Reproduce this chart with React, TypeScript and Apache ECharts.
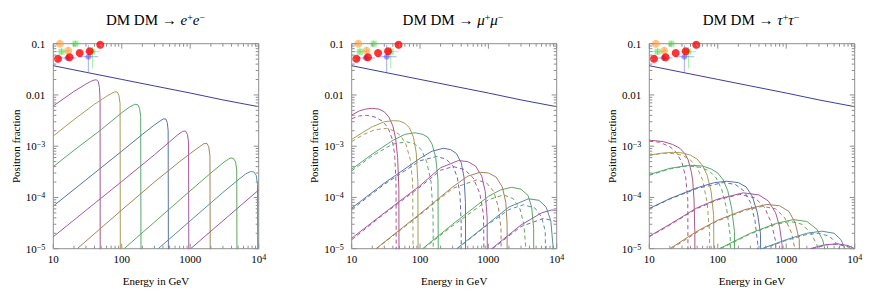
import React, { useEffect, useRef } from "react";
import * as echarts from "echarts";

// ---------------- data ----------------
const MASSES = [50, 100, 200, 500, 1000, 2000, 5000, 10000, 20000];
const MASS_COLORS = ["#A8578A", "#A89C58", "#58A86D", "#5872A8", "#A8579F", "#A88158", "#5DA858", "#588DA8", "#9657A8"];
const BG_COLOR = "#3F3D99";

const PANEL_TITLES = [
  "{n|DM DM → }{i|e}{s|+}{i|e}{s|−}",
  "{n|DM DM → }{i|μ}{s|+}{i|μ}{s|−}",
  "{n|DM DM → }{i|τ}{s|+}{i|τ}{s|−}",
];
const X_LABEL = "Energy in GeV";
const Y_LABEL = "Positron fraction";

const X_MAJOR = [10, 100, 1000, 10000];
const X_MINOR = [20, 30, 40, 50, 60, 70, 80, 90, 200, 300, 400, 500, 600, 700, 800, 900, 2000, 3000, 4000, 5000, 6000, 7000, 8000, 9000];
const Y_MAJOR = [1e-5, 1e-4, 1e-3, 1e-2, 1e-1];
const Y_MINOR = [
  2e-5, 3e-5, 4e-5, 5e-5, 6e-5, 7e-5, 8e-5, 9e-5,
  2e-4, 3e-4, 4e-4, 5e-4, 6e-4, 7e-4, 8e-4, 9e-4,
  2e-3, 3e-3, 4e-3, 5e-3, 6e-3, 7e-3, 8e-3, 9e-3,
  0.02, 0.03, 0.04, 0.05, 0.06, 0.07, 0.08, 0.09,
];

// astrophysical background positron fraction
const bgLine = [[10, 0.0372], [30, 0.0277], [100, 0.0201], [300, 0.015], [1000, 0.0109], [3000, 0.008], [10000, 0.0059]];

// DM DM -> e+ e-
const eeCurves = [
  [[10, 0.0061], [20, 0.0117], [30, 0.0163], [35, 0.0183], [40, 0.0196], [43, 0.0197], [45.5, 0.018], [47.2, 0.014], [48.2, 0.008], [48.6, 1e-8]],
  [[10, 0.00158], [20, 0.0033], [40, 0.0066], [60, 0.0094], [70, 0.0106], [79, 0.0115], [86, 0.0114], [91, 0.0097], [94.5, 0.0068], [96, 1e-8]],
  [[10, 4.0e-4], [20, 8.3e-4], [50, 0.0021], [100, 0.0045], [130, 0.0058], [155, 0.0066], [172, 0.0064], [182, 0.0055], [189, 0.0038], [193, 1e-8]],
  [[10, 6.8e-5], [30, 2.2e-4], [100, 8.0e-4], [200, 1.7e-3], [300, 2.6e-3], [350, 3.0e-3], [403, 3.4e-3], [440, 3.4e-3], [462, 2.9e-3], [476, 2.0e-3], [484, 1e-8]],
  [[10, 1.71e-5], [30, 5.6e-5], [100, 2.05e-4], [300, 6.8e-4], [500, 1.22e-3], [650, 1.65e-3], [775, 1.95e-3], [850, 1.98e-3], [910, 1.7e-3], [945, 1.2e-3], [965, 1e-8]],
  [[22.4, 1e-5], [100, 5.7e-5], [300, 2.0e-4], [700, 5.0e-4], [1000, 7.2e-4], [1300, 9.3e-4], [1585, 1.12e-3], [1750, 1.13e-3], [1860, 9.8e-4], [1940, 6.5e-4], [1985, 1e-8]],
  [[108, 1e-5], [300, 3.3e-5], [1000, 1.35e-4], [2000, 3.0e-4], [3000, 4.7e-4], [3600, 5.6e-4], [3927, 5.9e-4], [4300, 5.75e-4], [4600, 4.9e-4], [4780, 3.3e-4], [4870, 1e-8]],
  [[341, 1e-5], [1000, 3.5e-5], [3000, 1.25e-4], [5000, 2.2e-4], [6500, 2.9e-4], [7620, 3.2e-4], [8500, 3.15e-4], [9200, 2.7e-4], [9600, 1.8e-4], [9850, 1e-8]],
  [[1014, 1e-5], [3000, 3.5e-5], [10000, 1.4e-4]],
];

// DM DM -> mu+ mu-
const mumuSolid = [
  [[10, 0.00405], [13, 0.0049], [16, 0.0053], [20, 0.00548], [25, 0.0053], [30, 0.0047], [35, 0.0037], [40, 0.0025], [44, 0.0014], [47, 6e-4], [49, 1.5e-4], [49.6, 1e-8]],
  [[10, 0.00136], [15, 0.0019], [20, 0.0024], [30, 0.003], [40.7, 0.00315], [50, 0.0031], [60, 0.0028], [70, 0.0023], [80, 0.0015], [88, 7.5e-4], [93, 2e-4], [95, 1e-8]],
  [[10, 3.56e-4], [20, 7.0e-4], [40, 0.0013], [60, 0.0017], [84.5, 0.00183], [110, 0.0017], [130, 0.0015], [150, 0.0011], [170, 6e-4], [183, 2.2e-4], [189, 1e-8]],
  [[10, 6.2e-5], [30, 1.9e-4], [100, 5.8e-4], [150, 8.0e-4], [219, 9.1e-4], [280, 8.6e-4], [340, 7.2e-4], [400, 4.8e-4], [440, 2.5e-4], [462, 8e-5], [470, 1e-8]],
  [[10, 1.6e-5], [30, 5.0e-5], [100, 1.7e-4], [200, 3.8e-4], [364, 5.25e-4], [500, 5.0e-4], [650, 4.1e-4], [800, 2.6e-4], [900, 1.3e-4], [960, 4e-5], [985, 1e-8]],
  [[22.7, 1e-5], [100, 4.8e-5], [300, 1.6e-4], [500, 2.6e-4], [755, 3.1e-4], [1000, 3.0e-4], [1300, 2.5e-4], [1600, 1.6e-4], [1800, 8e-5], [1880, 3e-5], [1900, 1e-8]],
  [[109, 1e-5], [300, 3.0e-5], [1000, 1.05e-4], [1500, 1.4e-4], [2190, 1.58e-4], [3000, 1.45e-4], [3800, 1.1e-4], [4300, 6.5e-5], [4600, 2.5e-5], [4700, 1e-8]],
  [[344, 1e-5], [1000, 3.1e-5], [2000, 6.5e-5], [3850, 9.4e-5], [5500, 8.8e-5], [7000, 6.5e-5], [8200, 3.5e-5], [8800, 1.2e-5], [8950, 1e-8]],
  [[1119, 1e-5], [3000, 2.9e-5], [6000, 5.0e-5], [8450, 5.7e-5], [10000, 5.6e-5]],
];
const mumuDashed = [
  [[10, 0.00344], [13, 0.0039], [16.6, 0.004], [22, 0.0037], [28, 0.0031], [34, 0.0023], [39, 0.0014], [42.5, 7e-4], [44.5, 2e-4], [45.5, 1e-8]],
  [[10, 0.00123], [15, 0.0017], [22, 0.0021], [32.5, 0.00223], [42, 0.002], [52, 0.0016], [62, 0.0011], [72, 5.5e-4], [78, 2e-4], [81.6, 1e-8]],
  [[10, 3.3e-4], [20, 6.5e-4], [40, 0.0011], [63.8, 0.00122], [85, 0.0011], [105, 8.5e-4], [125, 5e-4], [145, 2e-4], [155, 5e-5], [160, 1e-8]],
  [[10, 5.8e-5], [30, 1.8e-4], [100, 5.2e-4], [175, 6.3e-4], [240, 5.6e-4], [300, 4.2e-4], [350, 2.5e-4], [385, 1.1e-4], [400, 3e-5], [405, 1e-8]],
  [[10, 1.5e-5], [30, 4.8e-5], [100, 1.6e-4], [200, 3.4e-4], [306, 4.0e-4], [450, 3.5e-4], [600, 2.4e-4], [750, 1.2e-4], [850, 4.5e-5], [900, 1e-8]],
  [[23, 1e-5], [100, 4.6e-5], [300, 1.5e-4], [677, 2.2e-4], [950, 1.9e-4], [1200, 1.3e-4], [1400, 6.5e-5], [1530, 2.5e-5], [1585, 1e-8]],
  [[112, 1e-5], [300, 2.8e-5], [1000, 9.0e-5], [1660, 1.12e-4], [2300, 9.5e-5], [2900, 6.0e-5], [3300, 3.0e-5], [3500, 1.2e-5], [3560, 1e-8]],
  [[350, 1e-5], [1000, 3.0e-5], [2000, 5.8e-5], [3270, 7.2e-5], [4800, 6.2e-5], [6000, 4.2e-5], [6800, 2.2e-5], [7150, 1e-8]],
  [[1150, 1e-5], [3000, 2.7e-5], [6380, 3.9e-5], [10000, 3.4e-5]],
];

// DM DM -> tau+ tau-
const tautauSolid = [
  [[10, 1.31e-3], [16, 1.23e-3], [22, 1.08e-3], [28, 9.1e-4], [33, 7.2e-4], [37, 5.4e-4], [41, 3.2e-4], [43, 2.2e-4], [45, 9e-5], [46.3, 2e-5], [46.6, 1e-8]],
  [[10, 6.7e-4], [15, 7.3e-4], [22.4, 7.6e-4], [30, 7.4e-4], [40, 6.7e-4], [50, 5.6e-4], [60, 4.2e-4], [70, 2.7e-4], [80, 1.3e-4], [87, 4.5e-5], [90.5, 1e-8]],
  [[10, 2.8e-4], [20, 3.7e-4], [39, 4.25e-4], [60, 4.1e-4], [80, 3.6e-4], [100, 3.0e-4], [120, 2.2e-4], [140, 1.35e-4], [160, 6.0e-5], [175, 2.2e-5], [184, 1e-8]],
  [[10, 6.1e-5], [20, 9.5e-5], [50, 1.55e-4], [90, 1.95e-4], [135, 2.07e-4], [200, 1.95e-4], [260, 1.6e-4], [320, 1.05e-4], [380, 5.0e-5], [420, 2.0e-5], [450, 1e-8]],
  [[10, 1.75e-5], [20, 3.0e-5], [50, 6.3e-5], [100, 9.3e-5], [236, 1.23e-4], [400, 1.12e-4], [550, 8.5e-5], [700, 5.0e-5], [800, 2.7e-5], [870, 1.2e-5], [905, 1e-8]],
  [[20, 1e-5], [50, 2.2e-5], [100, 3.6e-5], [250, 5.8e-5], [518, 7.3e-5], [800, 6.9e-5], [1100, 5.3e-5], [1350, 3.2e-5], [1550, 1.5e-5], [1660, 1e-8]],
  [[105, 1e-5], [300, 2.0e-5], [700, 3.1e-5], [1270, 3.7e-5], [2000, 3.4e-5], [2800, 2.4e-5], [3400, 1.5e-5], [3800, 8e-6], [4000, 1e-8]],
  [[438, 1e-5], [1000, 1.5e-5], [2000, 2.0e-5], [3300, 2.2e-5], [5000, 2.0e-5], [6300, 1.5e-5], [7200, 1.0e-5], [7800, 6e-6]],
  [[2230, 1e-5], [3500, 1.18e-5], [5500, 1.25e-5], [8000, 1.15e-5], [10000, 1.0e-5]],
];
const tautauDashed = [
  [[10, 1.25e-3], [14, 1.2e-3], [20, 9.8e-4], [25, 7.5e-4], [30, 4.8e-4], [34, 2.5e-4], [36.5, 9e-5], [37.2, 1e-8]],
  [[10, 6.6e-4], [15, 7.2e-4], [20, 7.3e-4], [30, 6.7e-4], [40, 5.4e-4], [50, 3.8e-4], [60, 2.2e-4], [70, 8e-5], [76, 2e-5], [77, 1e-8]],
  [[10, 2.7e-4], [20, 3.6e-4], [35, 4.1e-4], [55, 3.9e-4], [75, 3.3e-4], [95, 2.4e-4], [115, 1.4e-4], [135, 6e-5], [152, 1.8e-5], [159, 1e-8]],
  [[10, 6.0e-5], [20, 9.3e-5], [50, 1.5e-4], [120, 1.95e-4], [180, 1.8e-4], [240, 1.35e-4], [300, 8.0e-5], [350, 3.5e-5], [385, 1.2e-5], [390, 1e-8]],
  [[10, 1.7e-5], [20, 2.9e-5], [50, 6.1e-5], [100, 9.0e-5], [210, 1.15e-4], [350, 9.8e-5], [480, 6.5e-5], [600, 3.3e-5], [700, 1.4e-5], [768, 1e-8]],
  [[21, 1e-5], [50, 2.1e-5], [100, 3.5e-5], [250, 5.6e-5], [450, 6.7e-5], [700, 6.0e-5], [950, 4.0e-5], [1200, 2.0e-5], [1380, 8e-6], [1420, 1e-8]],
  [[110, 1e-5], [300, 1.95e-5], [700, 3.0e-5], [1150, 3.4e-5], [1700, 3.0e-5], [2300, 2.0e-5], [2800, 1.2e-5], [3200, 6e-6]],
  [[460, 1e-5], [1000, 1.45e-5], [2000, 1.9e-5], [3000, 2.0e-5], [4300, 1.75e-5], [5500, 1.25e-5], [6400, 8e-6]],
  [[2400, 1e-5], [4000, 1.2e-5], [5500, 1.22e-5], [8000, 1.1e-5], [10000, 9.5e-6]],
];

// measured positron fraction: [E, f, Elow, Ehigh, flow, fhigh]
const redData = [[11.7, 0.0509], [17.3, 0.0543], [24.3, 0.0659], [34.0, 0.0711], [48.5, 0.0956]];
const orangeData = [[12.5, 0.1, 11.2, 14, 0.088, 0.115], [16.5, 0.073, 15, 18.2, 0.06, 0.088]];
const greenData = [[13.2, 0.0698, 10.6, 16.4, 0.06, 0.082], [37.3, 0.0698, 29, 48, 0.033, 0.086], [21, 0.1, 18, 25, 0.085, 0.115]];
const blueData = [[16.1, 0.0526, 11.8, 21.9, 0.046, 0.06], [32.5, 0.0557, 23.2, 45.4, 0.028, 0.094]];

// ---------------- layout / style ----------------
const FONT = "'Liberation Serif', 'Times New Roman', serif";
const FRAME = "#8f8f8f";
const MAJOR_LEN = 5;
const MINOR_LEN = 3;
const GRIDS = [
  { left: 53.3, top: 43.7, width: 205.4, height: 205 },
  { left: 351.7, top: 43.7, width: 205, height: 205 },
  { left: 649.3, top: 43.7, width: 205.4, height: 205 },
];
const TITLE_X = [155.5, 453, 751];
const TITLE_Y = 20;

const supRich = {
  b: { fontFamily: FONT, fontSize: 11, lineHeight: 11, padding: [5, 0, 0, 0], verticalAlign: "bottom", color: "#000" },
  s: { fontFamily: FONT, fontSize: 8, lineHeight: 8, verticalAlign: "top", color: "#000" },
  p: { fontFamily: FONT, fontSize: 11, lineHeight: 11, color: "#000" },
};

function xTickItem(params: any, api: any) {
  const cs = params.coordSys;
  const p = api.coord([api.value(0), api.value(1)]);
  const len = api.value(2) ? MAJOR_LEN : MINOR_LEN;
  const x = p[0];
  const style = { stroke: FRAME, lineWidth: 1 };
  return {
    type: "group",
    children: [
      { type: "line", shape: { x1: x, y1: cs.y + cs.height, x2: x, y2: cs.y + cs.height - len }, style },
      { type: "line", shape: { x1: x, y1: cs.y, x2: x, y2: cs.y + len }, style },
    ],
  };
}
function yTickItem(params: any, api: any) {
  const cs = params.coordSys;
  const p = api.coord([api.value(0), api.value(1)]);
  const len = api.value(2) ? MAJOR_LEN : MINOR_LEN;
  const y = p[1];
  const style = { stroke: FRAME, lineWidth: 1 };
  return {
    type: "group",
    children: [
      { type: "line", shape: { x1: cs.x, y1: y, x2: cs.x + len, y2: y }, style },
      { type: "line", shape: { x1: cs.x + cs.width, y1: y, x2: cs.x + cs.width - len, y2: y }, style },
    ],
  };
}
function errItem(params: any, api: any) {
  const c = api.coord([api.value(0), api.value(1)]);
  const xl = api.coord([api.value(2), api.value(1)]);
  const xh = api.coord([api.value(3), api.value(1)]);
  const yl = api.coord([api.value(0), api.value(4)]);
  const yh = api.coord([api.value(0), api.value(5)]);
  const style = { stroke: api.visual("color"), lineWidth: 1, opacity: 0.45 };
  return {
    type: "group",
    children: [
      { type: "line", shape: { x1: xl[0], y1: c[1], x2: xh[0], y2: c[1] }, style },
      { type: "line", shape: { x1: c[0], y1: yl[1], x2: c[0], y2: yh[1] }, style },
    ],
  };
}

function lineSeries(p: number, data: number[][], color: string, dashed: boolean) {
  return {
    type: "line",
    xAxisIndex: p,
    yAxisIndex: p,
    data,
    symbol: "none",
    showSymbol: false,
    smooth: false,
    clip: true,
    silent: true,
    z: 2,
    lineStyle: { color, width: 1, type: dashed ? [4, 3] : "solid" },
  };
}

function panelSeries(p: number, solid: number[][][], dashed: number[][][] | null) {
  const s: any[] = [];
  s.push(lineSeries(p, bgLine, BG_COLOR, false));
  if (dashed) dashed.forEach((c, i) => s.push(lineSeries(p, c, MASS_COLORS[i], true)));
  solid.forEach((c, i) => s.push(lineSeries(p, c, MASS_COLORS[i], false)));
  const errSets: [any[], string][] = [
    [greenData, "#33dd33"],
    [blueData, "#4444ff"],
    [orangeData, "#ff9933"],
  ];
  errSets.forEach(([d, col]) =>
    s.push({ type: "custom", xAxisIndex: p, yAxisIndex: p, data: d, renderItem: errItem, itemStyle: { color: col }, silent: true, z: 4 })
  );
  s.push({ type: "scatter", xAxisIndex: p, yAxisIndex: p, data: greenData.map((d) => [d[0], d[1]]), symbol: "rect", symbolSize: 6, itemStyle: { color: "#33dd33", opacity: 0.45 }, silent: true, z: 5 });
  s.push({ type: "scatter", xAxisIndex: p, yAxisIndex: p, data: blueData.map((d) => [d[0], d[1]]), symbol: "circle", symbolSize: 6, itemStyle: { color: "#4444ff", opacity: 0.5 }, silent: true, z: 5 });
  s.push({ type: "scatter", xAxisIndex: p, yAxisIndex: p, data: orangeData.map((d) => [d[0], d[1]]), symbol: "circle", symbolSize: 8, itemStyle: { color: "#ff9933", opacity: 0.55 }, silent: true, z: 5 });
  s.push({ type: "scatter", xAxisIndex: p, yAxisIndex: p, data: redData, symbol: "circle", symbolSize: 8, itemStyle: { color: "#ff0000" }, silent: true, z: 6 });
  s.push({
    type: "custom", xAxisIndex: p, yAxisIndex: p, silent: true, z: 10,
    data: [...X_MAJOR.map((v) => [v, 1e-3, 1]), ...X_MINOR.map((v) => [v, 1e-3, 0])],
    renderItem: xTickItem,
  });
  s.push({
    type: "custom", xAxisIndex: p, yAxisIndex: p, silent: true, z: 10,
    data: [...Y_MAJOR.map((v) => [100, v, 1]), ...Y_MINOR.map((v) => [100, v, 0])],
    renderItem: yTickItem,
  });
  return s;
}

function buildOption() {
  const grid = GRIDS.map((g) => ({
    ...g,
    containLabel: false,
    outerBoundsMode: "none",
    show: true,
    borderColor: FRAME,
    borderWidth: 1,
    backgroundColor: "transparent",
  }));
  const xAxis = GRIDS.map((_, p) => ({
    type: "log",
    logBase: 10,
    min: 10,
    max: 10000,
    gridIndex: p,
    position: "bottom",
    axisLine: { show: false },
    axisTick: { show: false },
    splitLine: { show: false },
    minorTick: { show: false },
    name: X_LABEL,
    nameLocation: "middle",
    nameGap: 27,
    nameTextStyle: { fontFamily: FONT, fontSize: 11, color: "#000" },
    axisLabel: {
      show: true,
      margin: 5,
      showMinLabel: true,
      showMaxLabel: true,
      fontFamily: FONT,
      fontSize: 11,
      color: "#000",
      formatter: (v: number) => {
        const e = Math.round(Math.log10(v));
        return e >= 4 ? `{b|10}{s|${e}}` : `{p|${Math.round(v)}}`;
      },
      rich: supRich,
    },
  }));
  const yAxis = GRIDS.map((_, p) => ({
    type: "log",
    logBase: 10,
    min: 1e-5,
    max: 0.1,
    gridIndex: p,
    position: "left",
    axisLine: { show: false },
    axisTick: { show: false },
    splitLine: { show: false },
    minorTick: { show: false },
    name: Y_LABEL,
    nameLocation: "middle",
    nameGap: 32,
    nameRotate: 90,
    nameTextStyle: { fontFamily: FONT, fontSize: 11, color: "#000" },
    axisLabel: {
      show: true,
      margin: 8,
      showMinLabel: true,
      showMaxLabel: true,
      fontFamily: FONT,
      fontSize: 11,
      color: "#000",
      formatter: (v: number) => {
        const e = Math.round(Math.log10(v));
        if (e === -1) return "{p|0.1}";
        if (e === -2) return "{p|0.01}";
        return `{b|10}{s|−${-e}}`;
      },
      rich: supRich,
    },
  }));
  const titleRich = {
    n: { fontFamily: FONT, fontSize: 15, lineHeight: 15, padding: [5, 0, 0, 0], verticalAlign: "bottom", color: "#000" },
    i: { fontFamily: FONT, fontSize: 15, fontStyle: "italic", lineHeight: 15, padding: [5, 0, 0, 0], verticalAlign: "bottom", color: "#000" },
    s: { fontFamily: FONT, fontSize: 10, lineHeight: 10, verticalAlign: "top", color: "#000" },
  };
  const graphic = PANEL_TITLES.map((t, i) => ({
    type: "text",
    x: TITLE_X[i],
    y: TITLE_Y,
    silent: true,
    style: { text: t, rich: titleRich, fontFamily: FONT, fontSize: 15, fill: "#000", textAlign: "center", textVerticalAlign: "middle" },
  }));
  const series = [
    ...panelSeries(0, eeCurves, null),
    ...panelSeries(1, mumuSolid, mumuDashed),
    ...panelSeries(2, tautauSolid, tautauDashed),
  ];
  return {
    animation: false,
    backgroundColor: "#fff",
    textStyle: { fontFamily: FONT, color: "#000" },
    grid,
    xAxis,
    yAxis,
    graphic,
    series,
  };
}

export default function App() {
  const ref = useRef<HTMLDivElement>(null);
  useEffect(() => {
    if (!ref.current) return;
    const chart = echarts.init(ref.current, undefined, { renderer: "svg" });
    chart.setOption(buildOption() as any);
    return () => chart.dispose();
  }, []);
  return <div ref={ref} style={{ position: "fixed", left: 0, top: 0, width: 872, height: 298, background: "#fff" }} />;
}
